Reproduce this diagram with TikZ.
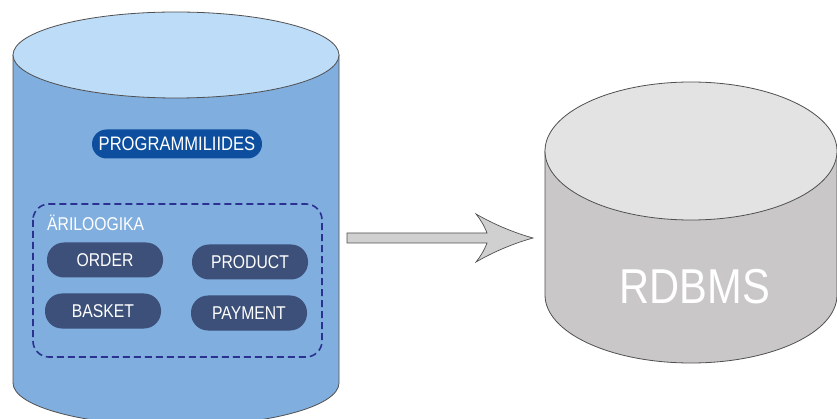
\documentclass[tikz,border=0pt]{standalone}
\usepackage{fontspec}
\setmainfont{Liberation Sans}
\newfontfamily\narrowfont[FakeStretch=0.85]{Liberation Sans}
\definecolor{cylside}{HTML}{80AEDE}
\definecolor{cyltop}{HTML}{BCDCF8}
\definecolor{dbside}{HTML}{C9C7C7}
\definecolor{dbtop}{HTML}{E3E3E3}
\definecolor{edgec}{HTML}{505050}
\definecolor{apic}{HTML}{0D4F9E}
\definecolor{pillc}{HTML}{3C5079}
\definecolor{dashc}{HTML}{2B3190}
\definecolor{arrowc}{HTML}{D0D0D0}
\begin{document}
\begin{tikzpicture}[x=1pt,y=-1pt,
  cylline/.style={draw=edgec, line width=0.8pt},
  lbl/.style={font=\narrowfont\fontsize{18.5}{22}\selectfont},
  pill/.style={lbl, fill=pillc, rounded corners=17pt, minimum width=116pt, minimum height=35pt,
    text=white, inner sep=0pt},
  apipill/.style={fill=apic, rounded corners=14.5pt, minimum width=170pt, minimum height=29pt,
    text=white, font=\narrowfont\fontsize{19.5}{22}\selectfont, inner sep=0pt},
  dashbox/.style={draw=dashc, line width=1.6pt, dash pattern=on 7pt off 4pt, rounded corners=16pt},
  fatarrow/.style={fill=arrowc, draw=edgec, line width=0.7pt}]
\useasboundingbox (0,0) rectangle (837,419);
\clip (0,0) rectangle (837,419);
\fill[white] (0,0) rectangle (837,419);
% left cylinder
\draw[cylline, fill=cylside] (13,55) -- (13,383) arc[start angle=180, end angle=360, x radius=163pt, y radius=43pt] -- (339,55) -- cycle;
\draw[cylline, fill=cyltop] (176,55) ellipse [x radius=163pt, y radius=43pt];
% right cylinder
\draw[cylline, fill=dbside] (545,151) -- (545,295) arc[start angle=180, end angle=360, x radius=146pt, y radius=68pt] -- (837,151) -- cycle;
\draw[cylline, fill=dbtop] (691,151) ellipse [x radius=146pt, y radius=69pt];
\node[text=white, font=\narrowfont\fontsize{49}{56}\selectfont] (rdbms) at (695,287) {RDBMS};
% contents
\node[apipill] (api) at (177,144) {PROGRAMMILIIDES};
\draw[dashbox] (33,204) rectangle (322,357);
\node[lbl, anchor=west, text=white, inner sep=0pt] (biz) at (47,223) {ÄRILOOGIKA};
\node[pill] (order) at (105,260) {ORDER};
\node[pill] (product) at (250,262) {PRODUCT};
\node[pill] (basket) at (103,311) {BASKET};
\node[pill] (payment) at (249,313) {PAYMENT};
% arrow
\draw[fatarrow] (347,233) -- (487,233) .. controls (484,225) and (480,219) .. (476,214)
  .. controls (495,225) and (515,233) .. (533,238)
  .. controls (515,243) and (495,251) .. (476,262)
  .. controls (480,257) and (484,251) .. (487,243) -- (347,243) -- cycle;
\end{tikzpicture}
\end{document}
